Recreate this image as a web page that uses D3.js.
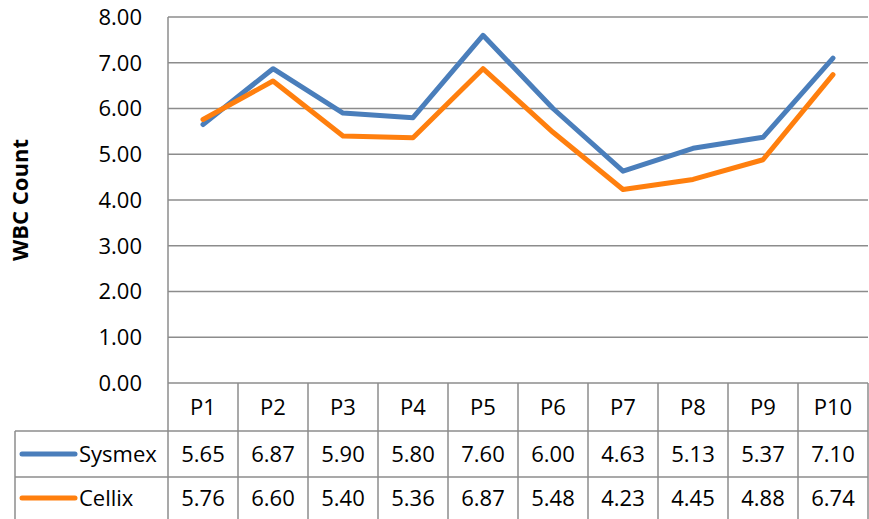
<!DOCTYPE html>
<html>
<head>
	<meta charset="utf-8">
	<title></title>
	<style>
		body { margin: 0; background: #fff; }
		text { font-family: "Open Sans", sans-serif; fill: #000; }
	</style>
</head>
<body>
	<svg id="container" width="869" height="519"></svg>
</body>
<script type="text/javascript" src="https://cdn.jsdelivr.net/npm/d3@7"></script>
<script>
	let categories = ["P1", "P2", "P3", "P4", "P5", "P6", "P7", "P8", "P9", "P10"]
	let sysmex = [5.65, 6.87, 5.90, 5.80, 7.60, 6.00, 4.63, 5.13, 5.37, 7.10]
	let cellix = [5.76, 6.60, 5.40, 5.36, 6.87, 5.48, 4.23, 4.45, 4.88, 6.74]
	let yTicks = [0, 1, 2, 3, 4, 5, 6, 7, 8]
	let seriesNames = ["Sysmex", "Cellix"]
	let seriesColors = ["#4a7ebb", "#ff7f0e"]

	let container = d3.select("#container")
	let gridColor = "#8c8c8c"

	let xScale = d3.scaleBand()
			.domain(categories)
			.range([168, 868])
	let yScale = d3.scaleLinear()
			.domain([0, 8])
			.range([383, 17])

	// horizontal grid lines
	container.selectAll(".grid")
		.data(yTicks)
		.enter()
		.append("line")
		.attr("x1", 168).attr("x2", 868)
		.attr("y1", d => yScale(d)).attr("y2", d => yScale(d))
		.attr("stroke", gridColor)
		.attr("stroke-width", 1.5)

	// tick labels
	container.selectAll(".tick")
		.data(yTicks)
		.enter()
		.append("text")
		.attr("x", 142)
		.attr("y", d => yScale(d))
		.attr("dy", "0.36em")
		.attr("text-anchor", "end")
		.attr("font-size", 22)
		.text(d => d.toFixed(2))

	// y axis title
	container.append("text")
		.attr("transform", "translate(28,200) rotate(-90)")
		.attr("text-anchor", "middle")
		.attr("font-size", 22)
		.attr("font-weight", "bold")
		.text("WBC Count")

	// table rows
	let rowTop = [383, 431, 477, 522]
	let tableLeft = 15
	container.append("line")
		.attr("x1", 168).attr("x2", 168)
		.attr("y1", 17).attr("y2", 519)
		.attr("stroke", gridColor).attr("stroke-width", 1.5)
	container.append("line")
		.attr("x1", tableLeft).attr("x2", tableLeft)
		.attr("y1", rowTop[1]).attr("y2", 519)
		.attr("stroke", gridColor).attr("stroke-width", 1.5)
	container.selectAll(".row")
		.data(rowTop.slice(1, 3))
		.enter()
		.append("line")
		.attr("x1", tableLeft).attr("x2", 868)
		.attr("y1", d => d).attr("y2", d => d)
		.attr("stroke", gridColor).attr("stroke-width", 1.5)
	container.selectAll(".col")
		.data(categories)
		.enter()
		.append("line")
		.attr("x1", d => xScale(d) + xScale.bandwidth())
		.attr("x2", d => xScale(d) + xScale.bandwidth())
		.attr("y1", 383).attr("y2", 519)
		.attr("stroke", gridColor).attr("stroke-width", 1.5)

	// header
	container.selectAll(".head")
		.data(categories)
		.enter()
		.append("text")
		.attr("x", d => xScale(d) + xScale.bandwidth() / 2)
		.attr("y", (rowTop[0] + rowTop[1]) / 2)
		.attr("dy", "0.36em")
		.attr("text-anchor", "middle")
		.attr("font-size", 22)
		.text(d => d)

	let allSeries = [sysmex, cellix]
	allSeries.forEach((values, i) => {
		let cy = i == 0 ? (rowTop[1] + rowTop[2]) / 2 : 498
		container.append("line")
			.attr("x1", 22).attr("x2", 75)
			.attr("y1", cy).attr("y2", cy)
			.attr("stroke", seriesColors[i])
			.attr("stroke-width", 5)
			.attr("stroke-linecap", "round")
		container.append("text")
			.attr("x", 79).attr("y", cy)
			.attr("dy", "0.36em")
			.attr("font-size", 22)
			.text(seriesNames[i])
		container.selectAll(".val" + i)
			.data(values)
			.enter()
			.append("text")
			.attr("x", (d, j) => xScale(categories[j]) + xScale.bandwidth() / 2)
			.attr("y", cy)
			.attr("dy", "0.36em")
			.attr("text-anchor", "middle")
			.attr("font-size", 22)
			.text(d => d.toFixed(2))
	})

	// lines
	let line = d3.line()
			.x((d, j) => xScale(categories[j]) + xScale.bandwidth() / 2)
			.y(d => yScale(d))
	allSeries.forEach((values, i) => {
		container.append("path")
			.attr("d", line(values))
			.attr("fill", "none")
			.attr("stroke", seriesColors[i])
			.attr("stroke-width", 5)
			.attr("stroke-linecap", "round")
			.attr("stroke-linejoin", "round")
	})
</script>
</html>
